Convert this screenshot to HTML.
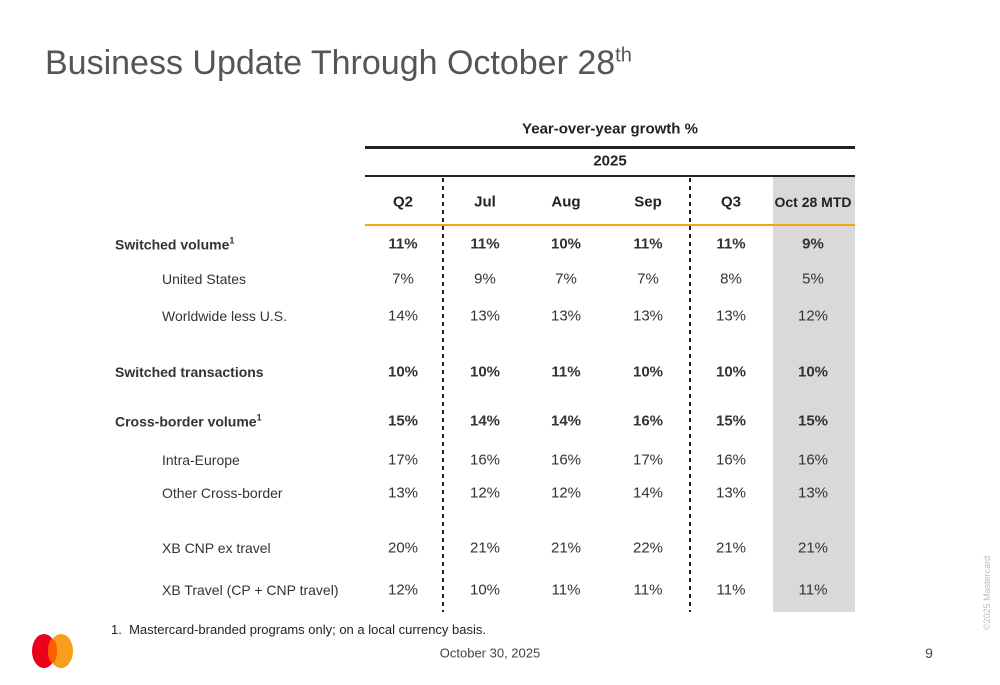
<!DOCTYPE html>
<html><head><meta charset="utf-8"><style>
body{margin:0;width:1000px;height:685px;background:#fff;position:relative;overflow:hidden;font-family:"Liberation Sans",sans-serif;color:#222}
.a{position:absolute;white-space:nowrap}
.c{transform:translate(-50%,-50%);text-align:center}
.l{transform:translateY(-50%)}
.b{font-weight:bold}
.dv{position:absolute;width:2px;background:repeating-linear-gradient(to bottom,#222 0 4px,transparent 4px 8px)}
</style></head><body>
<div class="a" style="left:45px;top:44px;font-size:34px;color:#555">Business Update Through October 28<sup style="font-size:20px">th</sup></div>
<div class="a c b" style="left:610px;top:129px;font-size:15px">Year-over-year growth %</div>
<div class="a" style="left:365px;top:146px;width:490px;height:3px;background:#222"></div>
<div class="a c b" style="left:610px;top:161px;font-size:15px">2025</div>
<div class="a" style="left:365px;top:175px;width:490px;height:2px;background:#222"></div>
<div class="a" style="left:773px;top:177px;width:82px;height:435px;background:#d9d9d9"></div>
<div class="dv" style="left:442px;top:178px;height:434px"></div>
<div class="dv" style="left:689px;top:178px;height:434px"></div>
<div class="a" style="left:365px;top:224px;width:490px;height:2px;background:#f7a21b"></div>
<div id="tbl"></div>
<div class="a" style="left:111px;top:622px;font-size:13px">1.&nbsp; Mastercard-branded programs only; on a local currency basis.</div>
<div class="a c" style="left:490px;top:653px;font-size:13px;color:#444">October 30, 2025</div>
<div class="a c" style="left:929px;top:653px;font-size:14px;color:#444">9</div>
<div class="a" style="left:982px;top:630px;font-size:9px;color:#bbb;transform:rotate(-90deg);transform-origin:0 0">©2025 Mastercard</div>
<svg class="a" style="left:29px;top:632px" width="50" height="40"><ellipse cx="15" cy="19" rx="12" ry="17" fill="#eb001b"/><ellipse cx="32" cy="19" rx="12" ry="17" fill="#f79e1b"/><ellipse cx="23.5" cy="19" rx="4.5" ry="12" fill="#ff5f00"/></svg>
<script>
const columns=["Q2","Jul","Aug","Sep","Q3","Oct 28 MTD"];
const rowLabels=["Switched volume","United States","Worldwide less U.S.","Switched transactions","Cross-border volume","Intra-Europe","Other Cross-border","XB CNP ex travel","XB Travel (CP + CNP travel)"];
const rowBold=[1,0,0,1,1,0,0,0,0];
const rowNote=[1,0,0,0,1,0,0,0,0];
const values=[["11%","11%","10%","11%","11%","9%"],["7%","9%","7%","7%","8%","5%"],["14%","13%","13%","13%","13%","12%"],["10%","10%","11%","10%","10%","10%"],["15%","14%","14%","16%","15%","15%"],["17%","16%","16%","17%","16%","16%"],["13%","12%","12%","14%","13%","13%"],["20%","21%","21%","22%","21%","21%"],["12%","10%","11%","11%","11%","11%"]];
const colX=[403,485,566,648,731,813];
const rowY=[244,279,316,372,421,460,493,548,590];
const t=document.getElementById('tbl');
columns.forEach((c,i)=>{const d=document.createElement('div');d.className='a c b';d.style.cssText=`left:${colX[i]}px;top:202px;font-size:${i==5?14:15}px`;d.textContent=c;


t.appendChild(d);});
rowLabels.forEach((r,j)=>{const d=document.createElement('div');d.className='a l'+(rowBold[j]?' b':'');d.style.cssText=`left:${rowBold[j]?115:162}px;top:${rowY[j]}px;font-size:14px;color:#333`;d.innerHTML=r+(rowNote[j]?'<sup style="font-size:9px">1</sup>':'');


t.appendChild(d);
values[j].forEach((v,i)=>{const e=document.createElement('div');e.className='a c'+(rowBold[j]?' b':'');e.style.cssText=`left:${colX[i]}px;top:${rowY[j]}px;font-size:15px;color:#333`;e.textContent=v;


t.appendChild(e);});});
</script>
</body></html>
